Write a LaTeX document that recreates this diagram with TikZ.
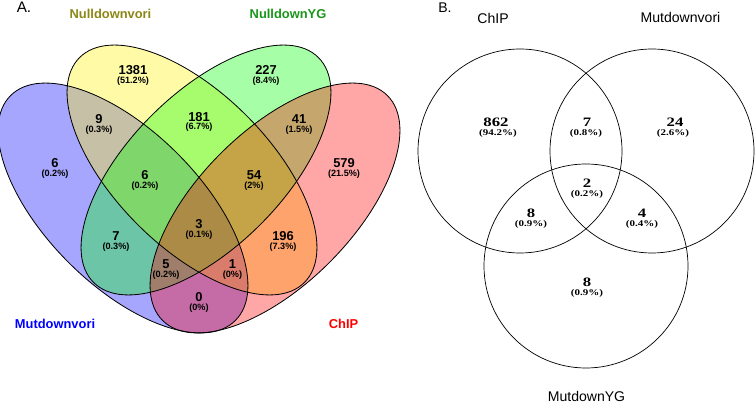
\documentclass[tikz,border=0pt]{standalone}
\usepackage{fontspec}
\setmainfont{Liberation Sans}
\newfontfamily\timesfont{Liberation Serif}
\usepackage{xcolor}
\usepackage{graphicx, tikz}

\definecolor{nulloli}{RGB}{140,135,20}
\definecolor{nullgreen}{RGB}{25,150,25}

\begin{document}
\begin{tikzpicture}[x=0.03cm, y=-0.03cm,
  setA/.style={font=\fontsize{11}{13}\selectfont\bfseries, anchor=base, inner sep=0pt},
  setB/.style={font=\fontsize{12}{14}\selectfont, anchor=base, inner sep=0pt},
  cntA/.style={font=\fontsize{11}{13}\selectfont\bfseries, anchor=base, inner sep=0pt},
  pctA/.style={font=\fontsize{7.8}{9}\selectfont\bfseries, anchor=base, inner sep=0pt},
  cntB/.style={font=\timesfont\fontsize{11}{13}\selectfont\bfseries, anchor=base, inner sep=0pt},
  pctB/.style={font=\timesfont\fontsize{7.5}{9}\selectfont\bfseries, anchor=base, inner sep=0pt}]
  \useasboundingbox (0,0) rectangle (756,404);

  % Centres
  \coordinate (MvoriA) at (123,208);
  \coordinate (NvoriA) at (192,170);
  \coordinate (NygA) at (206,170);
  \coordinate (ChIPA) at (275,208);
  \coordinate (ChIPB) at (520,151);
  \coordinate (MvoriB) at (652,151);
  \coordinate (MygB) at (586,266);

  % Sets A, fills first
  \fill[blue, fill opacity=0.35, rotate around={-45:(MvoriA)}] (MvoriA) ellipse [x radius=159, y radius=77];
  \fill[yellow, fill opacity=0.35, rotate around={-45:(NvoriA)}] (NvoriA) ellipse [x radius=159, y radius=77];
  \fill[green, fill opacity=0.35, rotate around={45:(NygA)}] (NygA) ellipse [x radius=159, y radius=77];
  \fill[red, fill opacity=0.35, rotate around={45:(ChIPA)}] (ChIPA) ellipse [x radius=159, y radius=77];
  \draw[line width=0.7pt, rotate around={-45:(MvoriA)}] (MvoriA) ellipse [x radius=159, y radius=77];
  \draw[line width=0.7pt, rotate around={-45:(NvoriA)}] (NvoriA) ellipse [x radius=159, y radius=77];
  \draw[line width=0.7pt, rotate around={45:(NygA)}] (NygA) ellipse [x radius=159, y radius=77];
  \draw[line width=0.7pt, rotate around={45:(ChIPA)}] (ChIPA) ellipse [x radius=159, y radius=77];

  % Sets B
  \draw[line width=0.6pt] (ChIPB) circle [radius=102];
  \draw[line width=0.6pt] (MvoriB) circle [radius=102];
  \draw[line width=0.6pt] (MygB) circle [radius=102];

  % Titles
  \node[anchor=base, font=\fontsize{13}{15}\selectfont] (TitleA) at (24,13) {A.};
  \node[anchor=base, font=\fontsize{12}{14}\selectfont] (TitleB) at (445,13) {B.};
  \node[setA, text=nulloli] (LabNvori) at (110.5,19) {Nulldownvori};
  \node[setA, text=nullgreen] (LabNyg) at (288,19) {NulldownYG};
  \node[setA, text=blue] (LabMvoriA) at (55,329) {Mutdownvori};
  \node[setA, text=red] (LabChIPA) at (343.5,329) {ChIP};
  \node[setB] (LabChIPB) at (493,24) {ChIP};
  \node[setB] (LabMvoriB) at (680.5,23) {Mutdownvori};
  \node[setB] (LabMygB) at (586.5,401) {MutdownYG};

  % Counts A
  \node[cntA] (A1381) at (133,75) {1381};
  \node[pctA] (P1381) at (133,83.5) {(51.2\%)};
  \node[cntA] (A227) at (266,75) {227};
  \node[pctA] (P227) at (266,83.5) {(8.4\%)};
  \node[cntA] (A9) at (99,124) {9};
  \node[pctA] (P9) at (99,132.5) {(0.3\%)};
  \node[cntA] (A181) at (199,121.5) {181};
  \node[pctA] (P181) at (199,130) {(6.7\%)};
  \node[cntA] (A41) at (299,124) {41};
  \node[pctA] (P41) at (299,132.5) {(1.5\%)};
  \node[cntA] (A6l) at (55,168) {6};
  \node[pctA] (P6l) at (55,176.5) {(0.2\%)};
  \node[cntA] (A6m) at (145,180) {6};
  \node[pctA] (P6m) at (145,188.5) {(0.2\%)};
  \node[cntA] (A54) at (254,180) {54};
  \node[pctA] (P54) at (254,188.5) {(2\%)};
  \node[cntA] (A579) at (344,168) {579};
  \node[pctA] (P579) at (344,176.5) {(21.5\%)};
  \node[cntA] (A7) at (116,241) {7};
  \node[pctA] (P7) at (116,249.5) {(0.3\%)};
  \node[cntA] (A3) at (199,229) {3};
  \node[pctA] (P3) at (199,237.5) {(0.1\%)};
  \node[cntA] (A196) at (283,241) {196};
  \node[pctA] (P196) at (283,249.5) {(7.3\%)};
  \node[cntA] (A5) at (166,269) {5};
  \node[pctA] (P5) at (166,277.5) {(0.2\%)};
  \node[cntA] (A1) at (232.5,269) {1};
  \node[pctA] (P1) at (232.5,277.5) {(0\%)};
  \node[cntA] (A0) at (199,302) {0};
  \node[pctA] (P0) at (199,310.5) {(0\%)};

  % Counts B
  \node[cntB] (B862) at (496,126.5) {\scalebox{1.3}[1]{862}};
  \node[pctB] (Q862) at (498,136) {\scalebox{1.25}[1]{(94.2\%)}};
  \node[cntB] (B7) at (587,126.5) {\scalebox{1.3}[1]{7}};
  \node[pctB] (Q7) at (586,136) {\scalebox{1.25}[1]{(0.8\%)}};
  \node[cntB] (B24) at (675,126.5) {\scalebox{1.3}[1]{24}};
  \node[pctB] (Q24) at (673,136) {\scalebox{1.25}[1]{(2.6\%)}};
  \node[cntB] (B2) at (587,187.5) {\scalebox{1.3}[1]{2}};
  \node[pctB] (Q2) at (587,197) {\scalebox{1.25}[1]{(0.2\%)}};
  \node[cntB] (B8l) at (531,217.5) {\scalebox{1.3}[1]{8}};
  \node[pctB] (Q8l) at (531,227) {\scalebox{1.25}[1]{(0.9\%)}};
  \node[cntB] (B4) at (642,217.5) {\scalebox{1.3}[1]{4}};
  \node[pctB] (Q4) at (642,227) {\scalebox{1.25}[1]{(0.4\%)}};
  \node[cntB] (B8b) at (587,286.5) {\scalebox{1.3}[1]{8}};
  \node[pctB] (Q8b) at (587,296) {\scalebox{1.25}[1]{(0.9\%)}};
\end{tikzpicture}
\end{document}
